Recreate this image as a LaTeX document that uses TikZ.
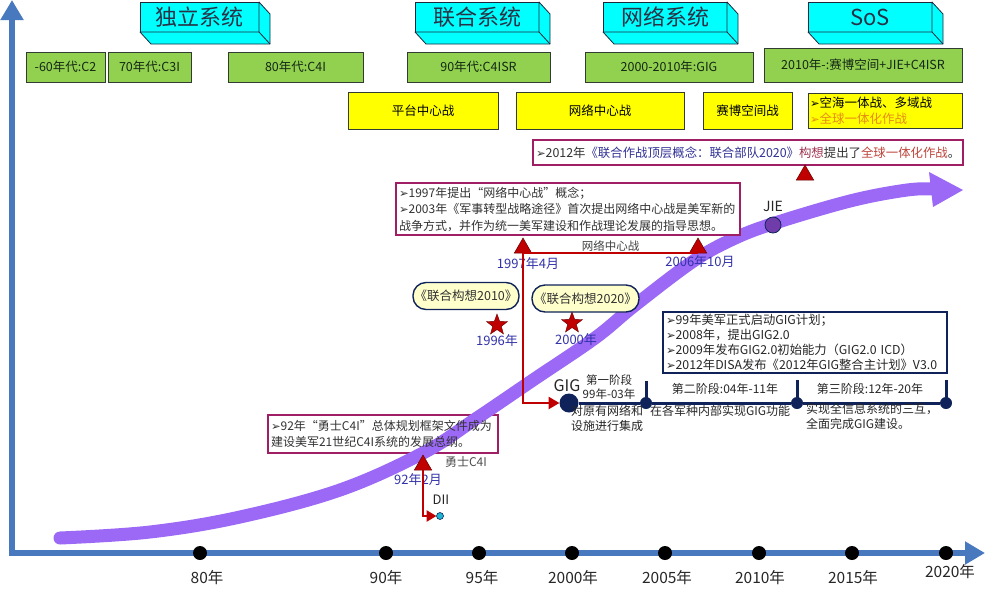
\documentclass[tikz,border=0pt]{standalone}
\usepackage{fontspec}
\setmainfont{Noto Sans CJK SC}
\newfontfamily\dvs{DejaVu Sans}
\usetikzlibrary{shapes.geometric,arrows.meta,calc}
\definecolor{axisblue}{RGB}{72,120,190}
\definecolor{curvepurple}{RGB}{155,105,245}
\definecolor{cyanbox}{RGB}{0,255,255}
\definecolor{hdrline}{RGB}{30,40,60}
\definecolor{hdrtext}{RGB}{40,50,70}
\definecolor{greenbox}{RGB}{146,208,80}
\definecolor{boxline}{RGB}{50,60,50}
\definecolor{gtext}{RGB}{20,40,20}
\definecolor{yellowbox}{RGB}{255,255,0}
\definecolor{calloutline}{RGB}{160,30,100}
\definecolor{calltext}{RGB}{50,50,50}
\definecolor{navytext}{RGB}{50,50,150}
\definecolor{plumtext}{RGB}{160,50,80}
\definecolor{redtext}{RGB}{190,70,60}
\definecolor{orangetext}{RGB}{230,140,20}
\definecolor{darkred}{RGB}{192,0,0}
\definecolor{bluelab}{RGB}{50,50,170}
\definecolor{navy}{RGB}{15,35,90}
\definecolor{jiepurple}{RGB}{112,60,170}
\definecolor{lightyellow}{RGB}{255,255,204}
\definecolor{diicyan}{RGB}{30,180,210}
\newcommand\bul{{\dvs\fontsize{11.5}{15}\selectfont ➢}}
\begin{document}
\begin{tikzpicture}[x=1pt,y=-1pt,
  every node/.style={inner sep=0pt, outer sep=0pt},
  hdr/.style={draw=hdrline, fill=cyanbox, line width=0.8pt, minimum height=30, font=\fontsize{22}{24}\selectfont, text=hdrtext},
  hdrface/.style={draw=hdrline, fill=cyanbox, line width=0.8pt, line join=round},
  gbox/.style={draw=boxline, fill=greenbox, line width=0.8pt, minimum height=30, font=\fontsize{12.5}{14}\selectfont, text=gtext},
  ybox/.style={draw=boxline, fill=yellowbox, line width=0.8pt, minimum height=37, font=\fontsize{12.5}{14}\selectfont},
  callout/.style={draw=calloutline, fill=white, line width=1.3pt, font=\fontsize{12}{16.5}\selectfont, text=calltext, align=left, inner xsep=3pt},
  redtri/.style={regular polygon, regular polygon sides=3, minimum size=20, fill=darkred, draw=red!40!black, line width=0.5pt},
  redstar/.style={star, star points=5, star point ratio=2.4, minimum size=22, fill=darkred, draw=red!40!black, line width=0.4pt},
  redline/.style={draw=darkred, line width=2.6pt},
  bluelabel/.style={text=bluelab, font=\fontsize{13}{15}\selectfont},
  pill/.style={draw=navy, fill=lightyellow, line width=1.4pt, rounded corners=13pt, minimum height=27, font=\fontsize{12.5}{14}\selectfont, text=calltext},
  axis/.style={draw=axisblue, line width=6pt},
  axdot/.style={circle, fill=black, minimum size=14},
  axlab/.style={font=\fontsize{15.5}{17}\selectfont, text=black!85},
  stagelab/.style={font=\fontsize{12}{13}\selectfont, text=black!85},
  desclab/.style={font=\fontsize{12}{15.5}\selectfont, text=black!85, anchor=north west, align=left},
  gigdot/.style={circle, fill=navy, minimum size=12},
  navyline/.style={draw=navy, line width=3pt},
]
\useasboundingbox (0,0) rectangle (985,590);

% axes
\coordinate (ytop) at (12,0);
\coordinate (origin) at (12,553);
\coordinate (xend) at (985,553);
\draw[axis, line join=miter, {Triangle[width=22pt,length=20pt]}-{Triangle[width=22pt,length=20pt]}] (ytop) -- (origin) -- (xend);

% box lying under the purple curve
\node[callout, minimum width=230, minimum height=38] (c3) at (383,434) {};

% purple curve
\draw[draw=curvepurple, line width=13pt, line cap=round]
  plot[smooth, tension=0.6] coordinates {(60,538) (150,532) (240,517) (340,490) (423,453) (477,418) (533,380) (595,338) (634,306) (692,262) (731,240) (772,224) (850,201) (907,190) (935,189)};
\fill[curvepurple] (929,172) -- (963,190) -- (933,207) -- cycle;

% header 3D boxes
\foreach \nm/\cx/\w/\txt in {h1/199.5/119/独立系统, h2/477/124/联合系统, h3/665/124/网络系统, h4/870/124/SoS}{
  \node[hdr, minimum width=\w] (\nm) at (\cx,17) {\txt};
  \draw[hdrface] (\nm.south west) -- ++(11,12) -- ($(\nm.south east)+(11,12)$) -- ($(\nm.north east)+(11,12)$) -- (\nm.north east) -- (\nm.south east) -- cycle;
  \draw[hdrface, fill=none] (\nm.south east) -- ++(11,12);
}

% green boxes
\node[gbox, minimum width=79] (g1) at (65.5,67) {-60年代:C2};
\node[gbox, minimum width=83] (g2) at (149.5,67) {70年代:C3I};
\node[gbox, minimum width=135] (g3) at (295.5,67) {80年代:C4I};
\node[gbox, minimum width=143] (g4) at (478.5,67) {90年代:C4ISR};
\node[gbox, minimum width=168] (g5) at (669,67) {2000-2010年:GIG};
\node[gbox, minimum width=198, minimum height=34] (g6) at (863,65) {2010年-:赛博空间+JIE+C4ISR};

% yellow boxes
\node[ybox, minimum width=150] (y1) at (423,110.5) {平台中心战};
\node[ybox, minimum width=168] (y2) at (600,110.5) {网络中心战};
\node[ybox, minimum width=89] (y3) at (747.5,110.5) {赛博空间战};
\node[ybox, minimum height=35, text width=150, inner xsep=2pt, align=left, font=\fontsize{12.5}{15.5}\selectfont] (y4) at (885,110.5)
  {\bul 空海一体战、多域战\\{\color{orangetext}\bul 全球一体化作战}};

% callout 1
\node[callout, text width=424, minimum height=25, font=\fontsize{12.4}{16.5}\selectfont] (c1) at (748,152.5)
  {\bul 2012年{\color{navytext}《联合作战顶层概念：联合部队2020》}{\color{plumtext}构想}提出了{\color{redtext}全球一体化作战}。};
\node[redtri] (t1) at (805,175) {};

% callout 2
\node[callout, text width=338, minimum height=52] (c2) at (568,209)
  {\bul 1997年提出“网络中心战”概念；\\
   \bul 2003年《军事转型战略途径》首次提出网络中心战是美军新的\\
   战争方式，并作为统一美军建设和作战理论发展的指导思想。};
\node[redtri] (t2) at (523,248) {};
\node[redtri] (t3) at (698,248) {};
\draw[draw=darkred, line width=1.6pt] (t2.south) -- node[above=2pt, font=\fontsize{11.5}{13}\selectfont, text=black!75] (ncw) {网络中心战} (t3.south);
\node[bluelabel] (d97) at (528,264) {1997年4月};
\node[bluelabel] (d06) at (700,262) {2006年10月};

% JIE
\node[circle, fill=jiepurple, draw=navy, line width=0.8pt, minimum size=16] (jie) at (773,225) {};
\node[font=\fontsize{14}{16}\selectfont, text=black!85] (jielab) at (773,206) {JIE};

% concept pills and stars
\node[pill, minimum width=106] (e1) at (466,296) {《联合构想2010》};
\node[pill, minimum width=107] (e2) at (585.5,298.5) {《联合构想2020》};
\node[redstar] (s1) at (497,325) {};
\node[redstar] (s2) at (572,323) {};
\node[bluelabel] (l96) at (497,341) {1996年};
\node[bluelabel] (l00) at (576,340) {2000年};

% GIG timeline
\node[circle, fill=navy, minimum size=19] (gig) at (569,403) {};
\node[gigdot] (p2) at (646,403) {};
\node[gigdot] (p3) at (797,403) {};
\node[gigdot] (p4) at (946,403) {};
\draw[navyline] (gig) -- (p2) -- (p3) -- (p4);
\coordinate (k2) at (646,381);
\coordinate (k3) at (797,380);
\coordinate (k4) at (946,380);
\draw[navyline] (p2.center) -- (k2);
\draw[navyline] (p3.center) -- (k3);
\draw[navyline] (p4.center) -- (k4);
\draw[redline, -{Triangle[width=12pt,length=11pt]}] (t2.south) |- (gig.west);
\node[font=\fontsize{16}{18}\selectfont, text=black!85] (giglab) at (567,386) {GIG};
\node[stagelab, align=center, font=\fontsize{11.5}{13.5}\selectfont] (st1) at (609,387) {第一阶段\\99年-03年};
\node[stagelab] (st2) at (725,389) {第二阶段:04年-11年};
\node[stagelab] (st3) at (870,389) {第三阶段:12年-20年};
\node[desclab] (ds1) at (571,405) {对原有网络和\\设施进行集成};
\node[desclab] (ds2) at (650,405) {在各军种内部实现GIG功能};
\node[desclab] (ds3) at (806,403) {实现全信息系统的三互，\\全面完成GIG建设。};

% GIG box
\node[draw=navy, fill=white, line width=1.4pt, text width=278, inner xsep=3pt, minimum height=61, align=left, font=\fontsize{12.3}{15}\selectfont, text=black!85] (b4) at (805,342.5)
  {\bul 99年美军正式启动GIG计划；\\
   \bul 2008年，提出GIG2.0\\
   \bul 2009年发布GIG2.0初始能力（GIG2.0 ICD）\\
   \bul 2012年DISA发布《2012年GIG整合主计划》V3.0};

% callout 3 text (box drawn under the curve)
\node[anchor=west, align=left, font=\fontsize{12}{16.5}\selectfont, text=calltext] (c3txt) at ($(c3.west)+(3,0)$)
  {\bul 92年“勇士C4I”总体规划框架文件成为\\
   建设美军21世纪C4I系统的发展总纲。};
\node[redtri] (t4) at (423,465) {};
\node[anchor=west, font=\fontsize{12}{13}\selectfont, text=black!70] (wc4i) at (445,462) {勇士C4I};
\node[bluelabel] (d92) at (418,480) {92年2月};
\node[circle, fill=diicyan, draw=navy, line width=0.6pt, minimum size=7] (dii) at (440,516) {};
\node[font=\fontsize{13}{15}\selectfont, text=black!85] (diilab) at (441,500) {DII};
\draw[redline, -{Triangle[width=11pt,length=10pt]}] (t4.south) |- (dii.west);

% axis ticks
\foreach \nm/\x/\lx/\ly/\txt in {a80/200/207/578/80年, a90/386/386/578/90年, a95/479/482/578/95年, a00/572/573/578/2000年, a05/665/667/578/2005年, a10/759/760/578/2010年, a15/852/853/578/2015年, a20/946/950/572/2020年}{
  \node[axdot] (\nm) at (\x,553) {};
  \node[axlab] (\nm lab) at (\lx,\ly) {\txt};
}
\end{tikzpicture}
\end{document}
